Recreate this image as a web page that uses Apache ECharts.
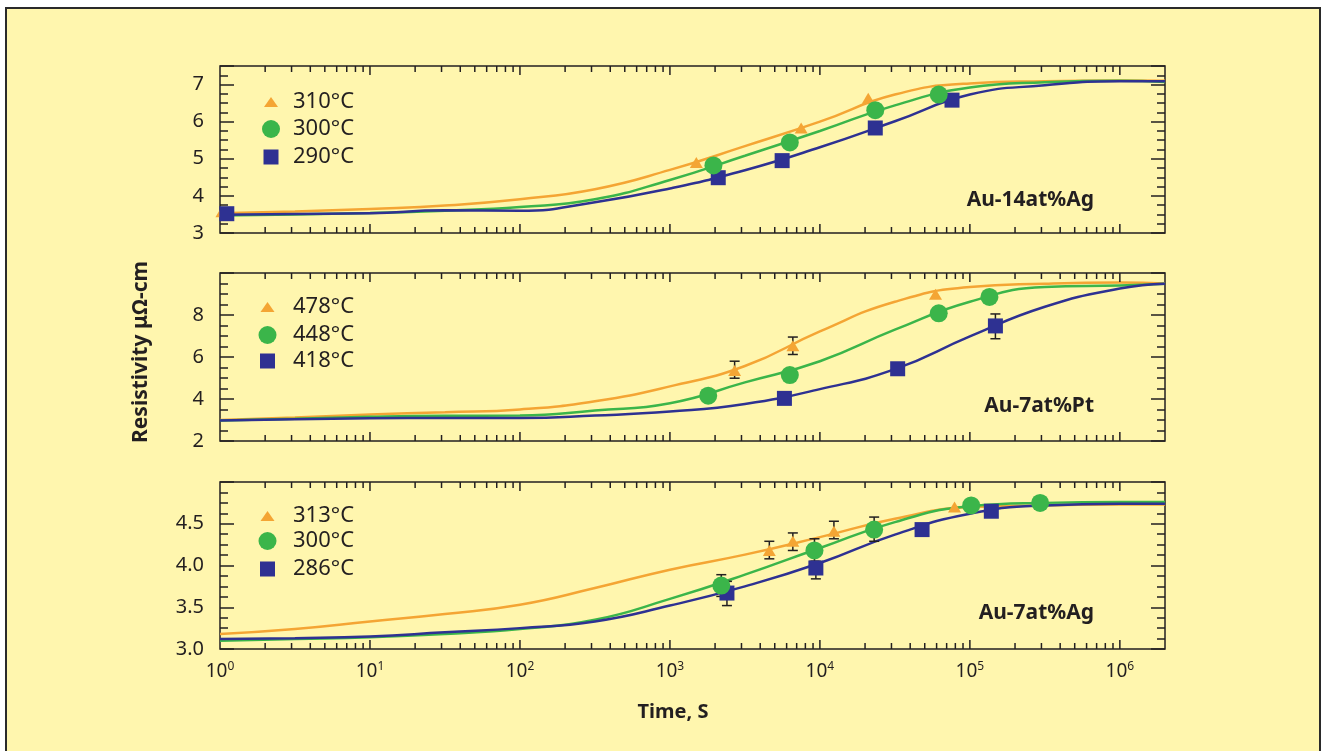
<!DOCTYPE html>
<html><head><meta charset="utf-8">
<script src="https://cdn.jsdelivr.net/npm/echarts@6/dist/echarts.min.js"></script>
<style>html,body{margin:0;padding:0;background:#fff;}#c{width:1322px;height:751px;}</style>
</head><body><div id="c"></div>
<script>
// ---------- DATA ----------
const times = [1, 3.16, 10, 31.6, 100, 316, 1000, 3162, 10000, 31623, 100000, 316228, 1000000, 2000000];
const xExponents = ['0', '1', '2', '3', '4', '5', '6'];

// Panel 1: Au-14at%Ag
const ag14Names = ['310°C', '300°C', '290°C'];
const ag14Fit310 = [3.53, 3.58, 3.65, 3.74, 3.91, 4.18, 4.70, 5.34, 6.00, 6.73, 7.03, 7.09, 7.11, 7.10];
const ag14Fit300 = [3.47, 3.50, 3.54, 3.60, 3.70, 3.91, 4.43, 5.08, 5.75, 6.44, 6.92, 7.06, 7.10, 7.07];
const ag14Fit290 = [3.49, 3.51, 3.53, 3.61, 3.60, 3.83, 4.20, 4.69, 5.31, 6.01, 6.73, 6.98, 7.09, 7.09];
const ag14Pts310 = [[1.03, 3.57], [1500, 4.90], [7500, 5.83], [21000, 6.63]];
const ag14Pts300 = [[1950, 4.82], [6300, 5.44], [23400, 6.31], [62000, 6.73]];
const ag14Pts290 = [[1.11, 3.52], [2100, 4.49], [5600, 4.95], [23400, 5.83], [76000, 6.58]];
const ag14Err = [];

// Panel 2: Au-7at%Pt
const pt7Names = ['478°C', '448°C', '418°C'];
const pt7Fit478 = [3.00, 3.12, 3.26, 3.37, 3.50, 3.89, 4.60, 5.57, 7.22, 8.63, 9.33, 9.49, 9.55, 9.50];
const pt7Fit448 = [2.98, 3.06, 3.15, 3.20, 3.21, 3.45, 3.80, 4.79, 5.80, 7.30, 8.63, 9.33, 9.41, 9.49];
const pt7Fit418 = [2.98, 3.04, 3.08, 3.10, 3.10, 3.21, 3.40, 3.76, 4.47, 5.42, 6.98, 8.39, 9.26, 9.49];
const pt7Pts478 = [[2700, 5.36], [6600, 6.54], [59000, 8.99]];
const pt7Pts448 = [[1800, 4.16], [6300, 5.14], [62000, 8.08], [135000, 8.86]];
const pt7Pts418 = [[5800, 4.03], [33000, 5.44], [148000, 7.48]];
const pt7Err = [[2700, 4.99, 5.80], [6600, 6.12, 6.95], [148000, 6.87, 8.05]];

// Panel 3: Au-7at%Ag
const ag7Names = ['313°C', '300°C', '286°C'];
const ag7Fit313 = [3.18, 3.24, 3.33, 3.42, 3.53, 3.73, 3.95, 4.13, 4.34, 4.56, 4.70, 4.72, 4.73, 4.73];
const ag7Fit300 = [3.10, 3.12, 3.14, 3.18, 3.24, 3.35, 3.60, 3.89, 4.21, 4.52, 4.71, 4.75, 4.76, 4.76];
const ag7Fit286 = [3.12, 3.13, 3.15, 3.20, 3.25, 3.33, 3.52, 3.75, 4.03, 4.37, 4.62, 4.72, 4.74, 4.74];
const ag7Pts313 = [[4600, 4.18], [6600, 4.29], [12400, 4.41], [79000, 4.70]];
const ag7Pts300 = [[2200, 3.76], [9200, 4.18], [23000, 4.43], [102000, 4.72], [294000, 4.75]];
const ag7Pts286 = [[2400, 3.67], [9400, 3.97], [48000, 4.43], [139000, 4.65]];
const ag7Err = [[4600, 4.08, 4.29], [6600, 4.18, 4.39], [12400, 4.32, 4.53],
                [2200, 3.63, 3.89], [2400, 3.52, 3.81], [9200, 4.05, 4.32], [9400, 3.84, 4.05],
                [23000, 4.29, 4.58]];

// ---------- STYLE / LAYOUT ----------
const FONT = "'Noto Sans', 'Open Sans', sans-serif";
const INK = '#231F20';
const COLORS = ['#F4A534', '#3BB54A', '#2E3192'];
const GRID_LEFT = 220, GRID_W = 945;
const panels = [
  { top: 66, height: 167, ymin: 3, ymax: 7.5, yint: 1, dec: 0, names: ag14Names,
    fits: [ag14Fit310, ag14Fit300, ag14Fit290], pts: [ag14Pts310, ag14Pts300, ag14Pts290], err: ag14Err,
    label: 'Au-14at%Ag', labelY: 200, legX: 271, legY: [102, 129, 157] },
  { top: 273, height: 168, ymin: 2, ymax: 10, yint: 2, dec: 0, names: pt7Names,
    fits: [pt7Fit478, pt7Fit448, pt7Fit418], pts: [pt7Pts478, pt7Pts448, pt7Pts418], err: pt7Err,
    label: 'Au-7at%Pt', labelY: 406, legX: 267.5, legY: [307, 335, 361] },
  { top: 482, height: 167, ymin: 3, ymax: 5, yint: 0.5, dec: 1, names: ag7Names,
    fits: [ag7Fit313, ag7Fit300, ag7Fit286], pts: [ag7Pts313, ag7Pts300, ag7Pts286], err: ag7Err,
    label: 'Au-7at%Ag', labelY: 613, legX: 267.5, legY: [516, 541, 569] }
];

const xTicks = [];
for (let k = 0; k <= 6; k++) {
  for (let m = 1; m <= 9; m++) {
    const v = m * Math.pow(10, k);
    if (v > 1 && v < 2000000) xTicks.push([v, m === 1 ? 1 : 0]);
  }
}

const grids = [], xAxes = [], yAxes = [], series = [], graphics = [];

graphics.push({ type: 'rect', z: -100, shape: { x: 6, y: 8, width: 1314, height: 800 },
  style: { fill: '#FFF6AE', stroke: '#2a2a2a', lineWidth: 2 } });

const symbols = ['triangle', 'circle', 'rect'];
const symSizes = [[13, 11], 18, 15];

panels.forEach((p, i) => {
  grids.push({ left: GRID_LEFT, width: GRID_W, top: p.top, height: p.height, show: true,
    borderColor: INK, borderWidth: 1.5, backgroundColor: 'transparent' });
  const isBottom = i === panels.length - 1;
  xAxes.push({ type: 'log', logBase: 10, gridIndex: i, min: 1, max: 2000000,
    axisLine: { show: false }, axisTick: { show: false }, splitLine: { show: false },
    axisLabel: { show: isBottom, margin: 12, showMaxLabel: false,
      formatter: v => {
        const e = Math.log10(v), r = Math.round(e);
        if (Math.abs(e - r) > 1e-6 || r < 0 || r > 6) return '';
        return '{b|10}{s|' + xExponents[r] + '}';
      },
      rich: { b: { fontSize: 19, fontFamily: FONT, color: INK },
              s: { fontSize: 12, fontFamily: FONT, color: INK, padding: [0, 0, 10, 0] } } } });
  const yBase = { type: 'value', gridIndex: i, min: p.ymin, max: p.ymax, interval: p.yint,
    axisLine: { show: false }, splitLine: { show: false },
    axisTick: { show: true, inside: true, length: 14, lineStyle: { color: INK, width: 1.5 } },
    minorTick: { show: true, splitNumber: 4, length: 8, lineStyle: { color: INK, width: 1.5 } } };
  yAxes.push(Object.assign({}, yBase, { position: 'left',
    axisLabel: { show: true, margin: 16, showMaxLabel: false, color: INK, fontSize: 20, fontFamily: FONT,
      formatter: v => v.toFixed(p.dec) } }));
  yAxes.push(Object.assign({}, yBase, { position: 'right', axisLabel: { show: false } }));
  const yi = i * 2;

  // fitted curves
  p.fits.forEach((f, j) => {
    series.push({ type: 'line', name: p.names[j] + ' fit', xAxisIndex: i, yAxisIndex: yi,
      data: times.map((t, k) => [t, f[k]]), smooth: 0.5, showSymbol: false,
      symbol: 'none', lineStyle: { color: COLORS[j], width: 2.5 }, z: 2, silent: true });
  });
  // error bars
  series.push({ type: 'custom', xAxisIndex: i, yAxisIndex: yi, data: p.err, z: 3, silent: true,
    encode: { x: 0, y: [1, 2] },
    renderItem: (params, api) => {
      const a = api.coord([api.value(0), api.value(1)]);
      const b = api.coord([api.value(0), api.value(2)]);
      const w = 5, st = { stroke: INK, lineWidth: 1.5 };
      return { type: 'group', children: [
        { type: 'line', shape: { x1: a[0], y1: a[1], x2: b[0], y2: b[1] }, style: st },
        { type: 'line', shape: { x1: a[0] - w, y1: a[1], x2: a[0] + w, y2: a[1] }, style: st },
        { type: 'line', shape: { x1: b[0] - w, y1: b[1], x2: b[0] + w, y2: b[1] }, style: st } ] };
    } });
  // markers (orange, blue, green order)
  [0, 2, 1].forEach(j => {
    series.push({ type: 'scatter', name: p.names[j], xAxisIndex: i, yAxisIndex: yi, data: p.pts[j],
      symbol: symbols[j], symbolSize: symSizes[j], clip: false,
      itemStyle: { color: COLORS[j], opacity: 1 }, z: 4 + (j === 1 ? 1 : 0) });
  });
  // x-axis ticks (top and bottom)
  series.push({ type: 'custom', xAxisIndex: i, yAxisIndex: yi, silent: true, z: 6,
    data: xTicks.map(t => [t[0], p.ymin, t[1]]), encode: { x: 0, y: 1 },
    renderItem: (params, api) => {
      const v = api.value(0), major = api.value(2) === 1;
      const b = api.coord([v, p.ymin]), t = api.coord([v, p.ymax]);
      const len = major ? 9 : 6, st = { stroke: INK, lineWidth: 1.5 };
      return { type: 'group', children: [
        { type: 'line', shape: { x1: b[0], y1: b[1], x2: b[0], y2: b[1] - len }, style: st },
        { type: 'line', shape: { x1: t[0], y1: t[1], x2: t[0], y2: t[1] + len }, style: st } ] };
    } });

  // legend
  const lx = p.legX, ly = p.legY;
  graphics.push({ type: 'polygon', shape: { points: [[lx, ly[0] - 5], [lx + 7, ly[0] + 5], [lx - 7, ly[0] + 5]] },
    style: { fill: COLORS[0] } });
  graphics.push({ type: 'circle', shape: { cx: lx, cy: ly[1], r: 9 }, style: { fill: COLORS[1] } });
  graphics.push({ type: 'rect', shape: { x: lx - 7.5, y: ly[2] - 7.5, width: 15, height: 15 }, style: { fill: COLORS[2] } });
  p.names.forEach((n, j) => {
    graphics.push({ type: 'text', x: 293, y: ly[j], style: { text: n, fill: INK, font: '22px ' + FONT,
      textVerticalAlign: 'middle', verticalAlign: 'middle' } });
  });
  graphics.push({ type: 'text', x: 1094, y: p.labelY, style: { text: p.label, fill: INK,
    font: 'bold 21px ' + FONT, textAlign: 'right', align: 'right', textVerticalAlign: 'middle', verticalAlign: 'middle' } });
});

graphics.push({ type: 'text', x: 141, y: 352, rotation: Math.PI / 2,
  style: { text: 'Resistivity μΩ-cm', fill: INK, font: 'bold 21px ' + FONT,
    textAlign: 'center', align: 'center', textVerticalAlign: 'middle', verticalAlign: 'middle' } });
graphics.push({ type: 'text', x: 673, y: 712,
  style: { text: 'Time, S', fill: INK, font: 'bold 20px ' + FONT,
    textAlign: 'center', align: 'center', textVerticalAlign: 'middle', verticalAlign: 'middle' } });

const chart = echarts.init(document.getElementById('c'), null, { renderer: 'canvas' });
chart.setOption({
  animation: false,
  backgroundColor: '#ffffff',
  grid: grids, xAxis: xAxes, yAxis: yAxes, series: series, graphic: graphics
});
</script></body></html>
